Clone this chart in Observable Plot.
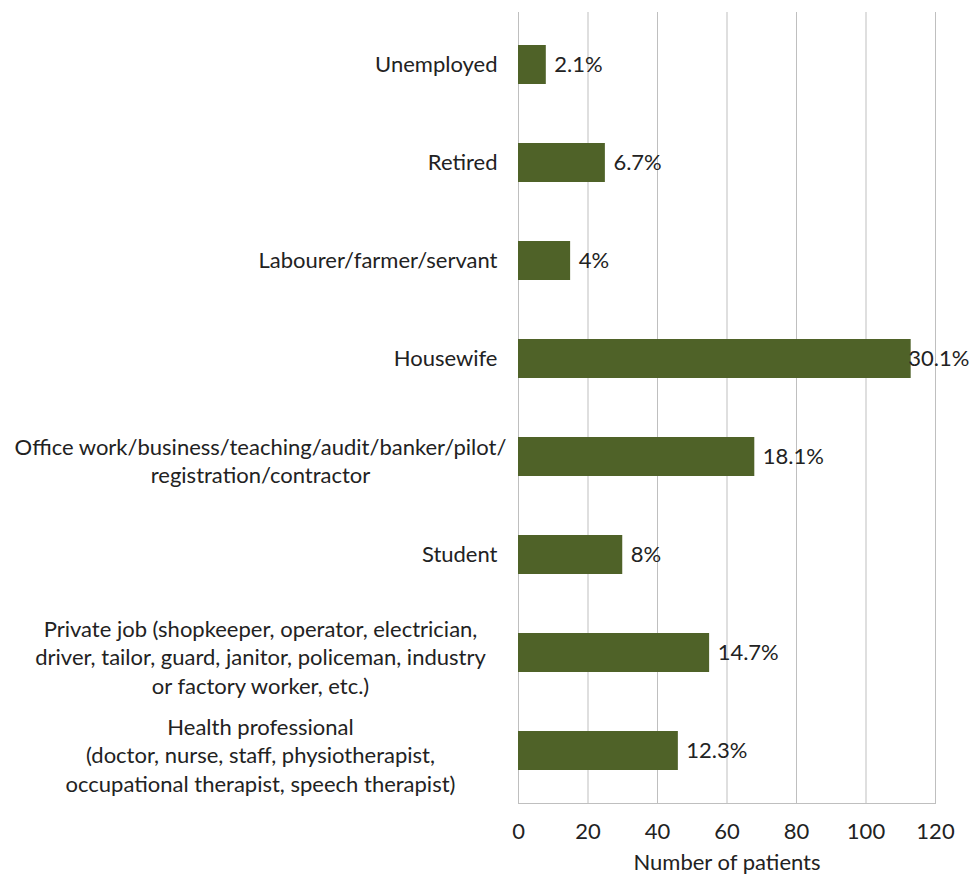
<!DOCTYPE html>
<html>
<head>
<meta charset="utf-8">
<script src="https://cdn.jsdelivr.net/npm/d3@7"></script>
<script src="https://cdn.jsdelivr.net/npm/@observablehq/plot@0.6"></script>
<style>
  html, body { margin: 0; padding: 0; background: #fff; }
</style>
</head>
<body>
<div id="chart"></div>
<script>
const categories = [
  "Unemployed",
  "Retired",
  "Labourer/farmer/servant",
  "Housewife",
  "Office work/business/teaching/audit/banker/pilot/\nregistration/contractor",
  "Student",
  "Private job (shopkeeper, operator, electrician,\ndriver, tailor, guard, janitor, policeman, industry\nor factory worker, etc.)",
  "Health professional\n(doctor, nurse, staff, physiotherapist,\noccupational therapist, speech therapist)"
];
const patients = [8, 25, 15, 113, 68, 30, 55, 46];
const percentLabels = ["2.1%", "6.7%", "4%", "30.1%", "18.1%", "8%", "14.7%", "12.3%"];
const xTicks = [0, 20, 40, 60, 80, 100, 120];
const xTitle = "Number of patients";

const data = categories.map((c, i) => ({cat: c, value: patients[i], pct: percentLabels[i]}));
const singleLine = categories.filter(c => !c.includes("\n"));
const multiLine = categories.filter(c => c.includes("\n"));

const chart = Plot.plot({
  width: 978,
  height: 879,
  marginLeft: 518,
  marginRight: 43,
  marginTop: 12,
  marginBottom: 76,
  style: {fontFamily: "Lato, 'Open Sans', sans-serif", fontSize: "22px", color: "#222", background: "#fff"},
  x: {domain: [0, 120], label: null},
  y: {domain: categories, paddingInner: 0.6, paddingOuter: 0.3, label: null},
  marks: [
    Plot.gridX(xTicks, {stroke: "#bfbfbf", strokeOpacity: 1, strokeWidth: 1}),
    Plot.frame({anchor: "bottom", stroke: "#bfbfbf"}),
    Plot.barX(data, {x: "value", y: "cat", fill: "#4f6228"}),
    Plot.text(data.filter(d => d.value <= 100), {x: "value", y: "cat", text: "pct", textAnchor: "start", dx: 8, fill: "#222", fontSize: 22}),
    Plot.text(data.filter(d => d.value > 100), {x: "value", y: "cat", text: "pct", textAnchor: "start", dx: -3, fill: "#222", fontSize: 22}),
    Plot.axisX({ticks: xTicks, tickSize: 0, tickPadding: 20, label: null, fontSize: 22}),
    Plot.axisY({ticks: singleLine, tickSize: 0, tickPadding: 21, label: null, textAnchor: "end", fontSize: 22}),
    Plot.axisY({ticks: multiLine, tickSize: 0, tickPadding: 0, dx: -258, dy: 3, label: null, textAnchor: "middle", lineHeight: 1.3, fontSize: 22}),
    Plot.text([xTitle], {frameAnchor: "bottom", dy: 66, fill: "#222", fontSize: 22})
  ]
});
document.getElementById("chart").appendChild(chart);
</script>
</body>
</html>
